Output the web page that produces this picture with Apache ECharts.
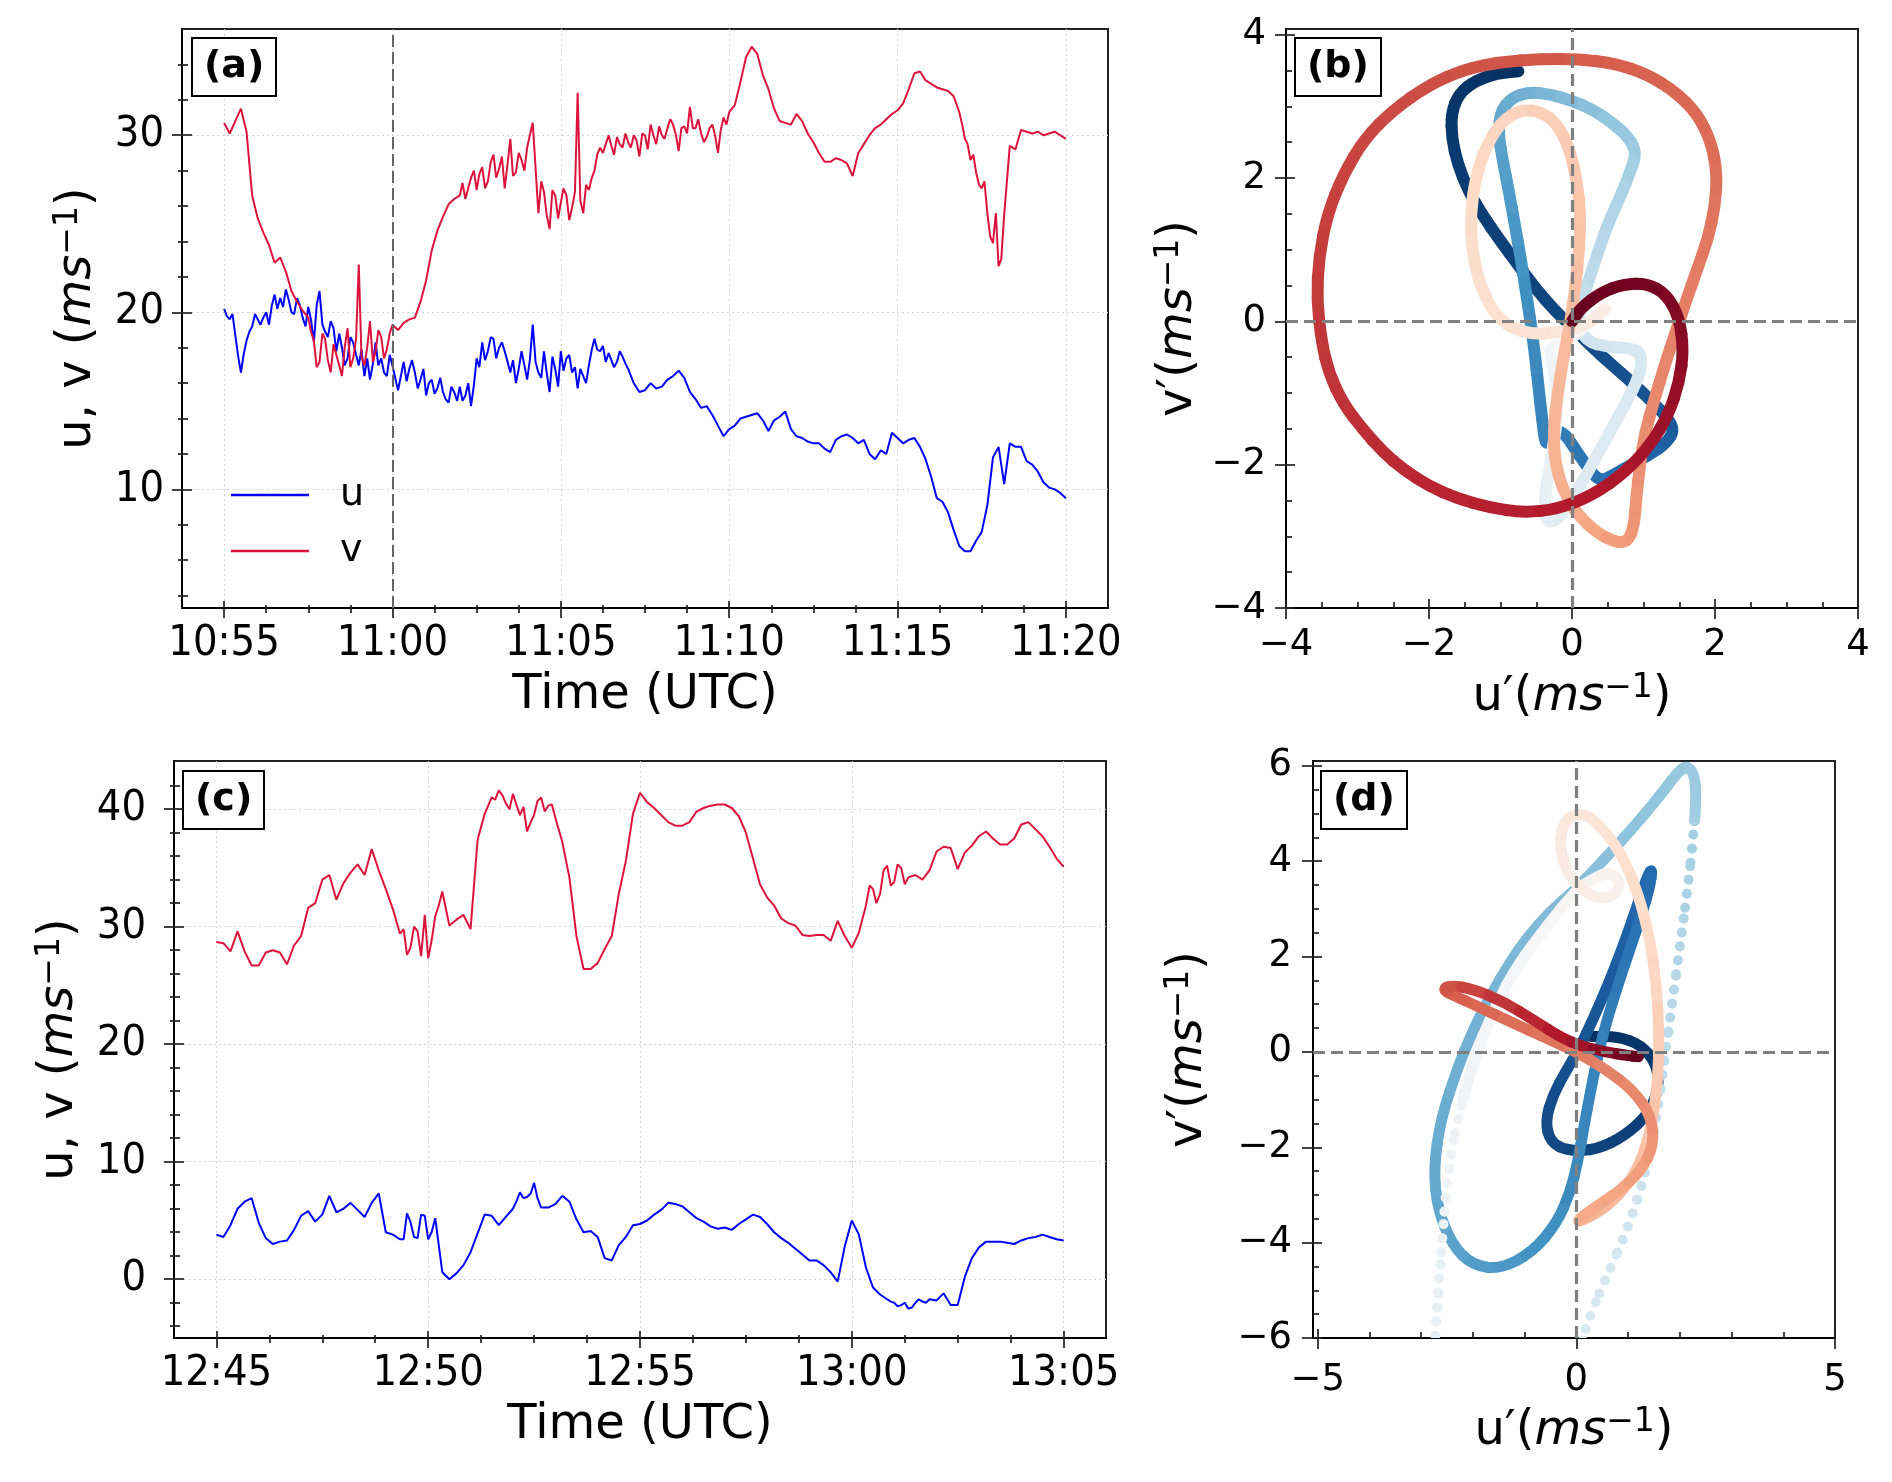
<!DOCTYPE html>
<html>
<head>
<meta charset="utf-8">
<script src="https://cdn.jsdelivr.net/npm/echarts@6.0.0/dist/echarts.min.js"></script>
<style>
  html, body { margin: 0; padding: 0; background: #fff; }
  #chart { width: 1892px; height: 1482px; }
</style>
</head>
<body>
<div id="chart"></div>
<script>
const FONT = 'DejaVu Sans';
const TICK_FONT = '"DejaVu Sans Condensed", "DejaVu Sans"';
const STEP = 1 / 6; // base samples every 10 s, x in minutes

// ---- (a) 10:55 - 11:20 UTC ----
const aTicks = [0, 5, 10, 15, 20, 25];
const aTickLabels = ['10:55', '11:00', '11:05', '11:10', '11:15', '11:20'];
const aU = [
  20.2, 19.6, 18.7, 16.6, 18.4, 19.2,  19.6, 19.7, 19.3, 21.0, 20.8, 21.3,
  20.0, 20.8, 19.7, 20.3, 18.3, 21.2,  18.9, 19.5, 17.8, 18.0, 17.4, 18.3,
  17.0, 16.4, 16.2, 18.3, 17.4, 16.4,  17.0, 15.6, 17.2, 16.8, 16.6, 16.2,
  15.3, 16.2, 15.7, 15.5, 14.9, 15.5,  15.8, 15.3, 14.7, 17.4, 18.3, 17.8,
  18.5, 18.0, 17.8, 16.6, 16.0, 17.8,  16.2, 19.3, 16.6, 17.8, 15.5, 16.8,
  17.8, 17.4, 16.6, 15.7, 16.4, 17.0,  18.5, 17.8, 17.2, 17.3, 17.2, 17.5,
  16.8, 16.0, 15.5, 15.6, 16.0, 15.7,  15.8, 16.2, 16.4, 16.7, 16.3, 15.5,
  15.1, 14.6, 14.7, 14.2, 13.6, 13.0,  13.4, 13.6, 14.0, 14.1, 14.2, 14.3,
  13.9, 13.3, 13.9, 14.1, 14.4, 13.4,  13.0, 12.9, 12.7, 12.6, 12.6, 12.3,
  12.1, 12.8, 13.0, 13.1, 12.9, 12.6,  12.8, 12.0, 11.7, 12.2, 12.0, 13.2,
  12.9, 12.6, 12.8, 12.9, 12.4, 11.7,  10.7, 9.5, 9.3, 8.7, 7.7, 6.8,
  6.5, 6.5, 7.1, 7.6, 9.1, 11.8,       12.4, 10.3, 12.6, 12.4, 12.4, 11.6,
  11.4, 11.0, 10.4, 10.1, 10.0, 9.8,   9.5
];
// extra 5-s samples in the noisy stretches: [minute, value]
const aUExtra = [
  [0.08,19.8],[0.25,19.9],[0.42,17.5],[0.58,17.6],[0.75,18.9],[0.92,19.9],
  [1.08,19.3],[1.25,20.0],[1.42,20.4],[1.58,20.2],[1.75,20.3],[1.92,20.7],
  [2.08,19.9],[2.25,20.4],[2.42,19.2],[2.58,19.6],[2.75,20.4],[2.92,19.3],
  [3.08,18.6],[3.25,19.1],[3.42,18.8],[3.58,17.0],[3.75,18.6],[3.92,17.6],
  [4.08,17.9],[4.25,17.4],[4.42,17.1],[4.58,17.0],[4.75,16.6],[4.92,17.6],
  [5.08,16.3],[5.25,16.4],[5.42,16.1],[5.58,17.3],[5.75,15.7],[5.92,16.8],
  [6.08,16.0],[6.25,15.4],[6.42,16.3],[6.58,15.1],[6.75,15.8],[6.92,15.0],
  [7.08,15.0],[7.25,16.0],[7.42,15.9],[7.58,16.9],[7.75,17.3],[7.92,18.6],
  [8.08,17.4],[8.25,18.3],[8.42,17.2],[8.58,17.3],[8.75,16.8],[8.92,17.0],
  [9.08,17.3],[9.25,17.2],[9.42,16.3],[9.58,16.6],[9.75,17.5],[9.92,15.8],
  [10.08,16.7],[10.25,17.6],[10.42,16.9],[10.58,16.8],[10.75,16.0],[10.92,17.9],
  [11.08,17.9],[11.25,18.1],[11.42,17.7],[11.58,16.9],[11.75,17.8],[11.92,17.1]
];
const aV = [
  30.7, 30.1, 30.8, 31.5, 30.2, 26.6,  25.3, 24.5, 23.8, 22.8, 23.1, 22.3,
  21.2, 20.6, 20.1, 19.7, 18.4, 17.2,  18.5, 16.6, 17.6, 16.4, 19.1, 17.4,
  22.7, 17.0, 19.5, 17.8, 18.6, 17.9,  19.3, 19.0, 19.4, 19.6, 19.7, 20.6,
  21.8, 23.5, 24.6, 25.4, 26.1, 26.4,  26.6, 26.4, 27.6, 26.9, 28.2, 27.4,
  28.9, 28.1, 27.0, 29.8, 27.9, 28.6,  29.3, 30.7, 25.6, 26.8, 24.7, 26.6,
  26.2, 26.6, 25.9, 32.4, 25.6, 26.9,  28.0, 29.3, 29.5, 29.4, 29.9, 29.3,
  29.6, 30.0, 28.8, 30.0, 30.6, 29.5,  30.0, 30.4, 30.6, 29.1, 30.5, 31.6,
  30.4, 30.1, 29.9, 30.6, 29.0, 31.0,  31.3, 31.7, 33.0, 34.4, 35.0, 34.6,
  33.4, 32.6, 31.5, 30.8, 30.7, 30.6,  31.2, 30.8, 30.1, 29.6, 29.0, 28.5,
  28.5, 28.7, 28.6, 28.4, 27.7, 29.0,  29.5, 30.0, 30.4, 30.6, 30.9, 31.2,
  31.4, 31.8, 32.6, 33.5, 33.6, 33.1,  32.9, 32.7, 32.6, 32.5, 32.2, 31.3,
  29.8, 28.6, 27.9, 27.0, 25.6, 23.9,  22.6, 25.5, 29.4, 29.2, 30.3, 30.2,
  30.1, 30.2, 30.0, 30.1, 30.2, 30.0,  29.8
];
const aVExtra = [
  [2.58,18.9],[2.75,16.9],[2.92,18.8],[3.08,17.3],[3.25,18.2],[3.42,17.0],[3.58,18.0],
  [3.75,16.9],[3.92,18.5],[4.08,17.5],[4.25,18.0],[4.42,17.2],[4.58,19.0],[4.75,17.4],[4.92,18.8],
  [7.08,27.3],[7.25,27.0],[7.42,28.0],[7.58,27.8],[7.75,27.0],[7.92,28.5],[8.08,27.6],
  [8.25,28.8],[8.42,28.4],[8.58,27.7],[8.75,29.0],[8.92,28.0],[9.08,30.0],[9.42,27.4],
  [9.58,25.5],[9.75,26.9],[9.92,25.3],[10.08,27.0],[10.25,25.2],[10.42,26.8],[10.58,26.3],
  [10.75,27.2],[10.92,27.6],
  [11.08,28.9],[11.25,29.0],[11.42,30.0],[11.58,28.9],[11.75,29.5],[11.92,30.1],[12.08,29.3],
  [12.25,29.7],[12.42,30.1],[12.58,29.2],[12.75,30.0],[12.92,30.5],[13.08,29.8],[13.25,30.9],
  [13.42,30.0],[13.58,30.4],[13.75,30.1],[13.92,30.4],[14.08,30.9],[14.25,29.6],[14.42,30.4],
  [14.58,30.0],[14.75,30.3],[14.92,30.6],
  [21.92,30.6],[22.08,29.5],[22.25,28.9],[22.42,27.2],[22.58,27.4],[22.75,24.3],[22.92,25.6],[23.08,23.0]
];
const aMarkTime = 5; // 11:00

// ---- (c) 12:45 - 13:05 UTC ----
const cTicks = [0, 5, 10, 15, 20];
const cTickLabels = ['12:45', '12:50', '12:55', '13:00', '13:05'];
const cU = [
  3.8, 3.6, 4.6, 6.0, 6.6, 6.9,   4.8, 3.5, 3.0, 3.2, 3.3, 4.2,
  5.4, 5.8, 4.9, 5.5, 7.1, 5.7,   6.0, 6.5, 5.9, 5.3, 6.5, 7.3,
  4.0, 3.8, 3.4, 5.6, 3.6, 5.5,   3.4, 5.2, 0.6, 0.0, 0.5, 1.2,
  2.3, 3.9, 5.5, 5.4, 4.6, 5.3,   6.0, 7.4, 7.0, 8.2, 6.1, 6.1,
  6.4, 7.1, 6.6, 5.1, 4.0, 4.1,   3.6, 1.8, 1.6, 2.9, 3.6, 4.6,
  4.7, 5.0, 5.5, 5.9, 6.5, 6.4,   6.2, 5.7, 5.2, 4.9, 4.5, 4.3,
  4.4, 4.2, 4.7, 5.1, 5.5, 5.3,   4.7, 4.0, 3.5, 3.1, 2.6, 2.1,
  1.6, 1.6, 1.2, 0.6, -0.2, 2.8,  5.0, 3.8, 1.0, -0.7, -1.3, -1.7,
  -2.0, -2.2, -2.5, -2.0, -1.9, -1.7,  -1.8, -1.2, -2.2, -2.2, 0.2, 1.8,
  2.7, 3.2, 3.2, 3.2, 3.1, 3.0,   3.3, 3.5, 3.6, 3.8, 3.6, 3.4,
  3.3
];
const cUExtra = [
  [4.42,3.4],[4.58,4.9],[4.75,3.5],[4.92,5.4],[5.08,4.0],
  [7.08,6.6],[7.25,6.9],[7.42,7.3],[7.58,6.9],
  [15.92,-1.9],[16.08,-2.3],[16.25,-2.0],[16.42,-2.4],[16.58,-1.7],[16.75,-2.0]
];
const cV = [
  28.7, 28.6, 27.9, 29.6, 27.9, 26.7,  26.7, 27.8, 28.0, 27.8, 26.8, 28.4,
  29.2, 31.6, 32.0, 34.0, 34.4, 32.3,  33.7, 34.6, 35.3, 34.4, 36.6, 34.8,
  33.2, 31.5, 29.4, 27.6, 30.0, 27.5,  27.3, 30.9, 33.0, 30.1, 30.6, 31.0,
  29.8, 37.4, 39.6, 41.0, 41.6, 40.5,  41.3, 39.5, 38.1, 39.5, 41.0, 40.3,
  39.3, 37.2, 34.2, 29.2, 26.4, 26.4,  26.9, 28.1, 29.2, 32.8, 35.6, 39.6,
  41.4, 40.6, 40.1, 39.5, 38.9, 38.6,  38.6, 38.9, 39.8, 40.1, 40.3, 40.4,
  40.4, 40.1, 39.4, 38.0, 35.8, 33.6,  32.5, 31.8, 30.7, 30.3, 30.1, 29.3,
  29.2, 29.3, 29.3, 28.8, 30.5, 29.2,  28.2, 29.5, 31.8, 33.2, 32.8, 35.2,
  33.8, 35.0, 34.2, 34.4, 34.0, 34.8,  36.4, 36.8, 36.7, 34.9, 36.3, 36.9,
  37.7, 38.1, 37.5, 37.0, 37.0, 37.5,  38.7, 38.9, 38.3, 37.7, 36.8, 35.8,
  35.1
];
const cVExtra = [
  [4.42,29.8],[4.58,28.2],[4.75,29.6],[4.92,31.0],[5.08,28.8],[5.25,31.8],
  [6.58,40.8],[6.75,41.2],[6.92,40.0],[7.08,40.4],[7.25,40.2],[7.42,38.9],[7.58,40.7],[7.75,39.8],[7.92,40.4],
  [15.42,33.5],[15.58,32.0],[15.75,34.8],[15.92,33.5],[16.08,35.3],[16.25,33.6]
];

// ---- (b) hodograph: [u', v', colour position 0..1] ----
const bPath = [
  [-0.75,3.49,0.0],[-1.05,3.46,0.003],[-1.35,3.36,0.006],[-1.58,3.18,0.009],[-1.69,2.9,0.012],
  [-1.68,2.55,0.015],[-1.6,2.2,0.018],[-1.45,1.82,0.021],[-1.25,1.48,0.025],[-1.0,1.12,0.029],
  [-0.75,0.78,0.033],[-0.5,0.45,0.037],[-0.25,0.16,0.041],[0.0,-0.08,0.045],
  [0.25,-0.33,0.05],[0.55,-0.6,0.055],[0.85,-0.86,0.06],[1.12,-1.12,0.065],[1.33,-1.34,0.07],[1.43,-1.52,0.075],
  [1.32,-1.7,0.085],[1.1,-1.85,0.095],[0.85,-1.99,0.105],[0.6,-2.13,0.115],[0.38,-2.25,0.125],
  [0.12,-1.9,0.135],[-0.14,-1.5,0.145],[-0.3,-1.62,0.15],[-0.37,-1.74,0.155],
  [-0.42,-1.35,0.165],[-0.47,-0.9,0.17],[-0.52,-0.45,0.178],[-0.58,0.0,0.185],[-0.65,0.45,0.192],
  [-0.72,0.9,0.2],[-0.8,1.35,0.208],[-0.88,1.8,0.216],[-0.97,2.25,0.224],[-1.03,2.62,0.232],
  [-1.0,2.92,0.24],[-0.85,3.12,0.25],[-0.6,3.2,0.26],[-0.3,3.17,0.27],[0.0,3.08,0.28],
  [0.3,2.95,0.29],[0.58,2.76,0.3],[0.8,2.56,0.31],[0.9,2.35,0.32],[0.82,2.1,0.33],
  [0.68,1.75,0.34],[0.52,1.4,0.35],[0.38,1.02,0.36],[0.25,0.62,0.37],[0.14,0.28,0.38],[0.07,0.0,0.39],
  [0.2,-0.28,0.4],[0.5,-0.36,0.405],[0.8,-0.37,0.41],[0.98,-0.45,0.415],[0.95,-0.75,0.42],
  [0.75,-1.15,0.425],[0.5,-1.6,0.43],[0.25,-2.05,0.435],[0.0,-2.5,0.44],[-0.22,-2.8,0.445],
  [-0.38,-2.78,0.45],[-0.38,-2.4,0.455],[-0.3,-1.95,0.46],[-0.22,-1.5,0.465],[-0.2,-1.0,0.47],
  [-0.28,-0.55,0.48],[-0.32,-0.38,0.49],[-0.1,-0.3,0.5],[0.15,-0.1,0.51],[0.35,0.1,0.52],[0.5,0.2,0.53],
  [0.35,0.05,0.54],[0.12,-0.08,0.55],[-0.2,-0.16,0.56],[-0.55,-0.18,0.57],[-0.88,-0.08,0.575],
  [-1.12,0.15,0.58],[-1.3,0.55,0.585],[-1.4,1.0,0.59],[-1.42,1.5,0.595],[-1.35,2.0,0.6],
  [-1.2,2.45,0.605],[-0.98,2.8,0.61],[-0.7,2.96,0.615],[-0.42,2.92,0.62],[-0.2,2.75,0.625],
  [-0.03,2.4,0.63],[0.07,1.95,0.635],[0.12,1.5,0.64],[0.1,1.0,0.645],[0.05,0.5,0.65],
  [-0.02,0.0,0.655],[-0.12,-0.5,0.66],[-0.2,-1.0,0.665],[-0.26,-1.5,0.67],[-0.24,-1.95,0.675],
  [-0.13,-2.35,0.68],[0.08,-2.7,0.69],[0.35,-2.95,0.7],[0.6,-3.08,0.71],[0.78,-3.08,0.715],
  [0.87,-2.85,0.72],[0.9,-2.45,0.725],[0.95,-2.0,0.73],[1.02,-1.55,0.735],[1.15,-1.1,0.74],
  [1.3,-0.6,0.745],[1.45,-0.15,0.75],[1.6,0.3,0.755],[1.75,0.72,0.76],[1.9,1.15,0.765],
  [2.0,1.6,0.77],[2.03,2.05,0.775],[1.95,2.5,0.78],[1.75,2.9,0.785],[1.45,3.2,0.79],
  [1.05,3.45,0.795],[0.6,3.6,0.8],[0.1,3.66,0.805],[-0.45,3.66,0.81],[-1.0,3.62,0.815],
  [-1.5,3.52,0.82],[-2.0,3.3,0.825],[-2.5,2.95,0.83],[-2.9,2.55,0.835],[-3.2,2.05,0.84],
  [-3.42,1.5,0.845],[-3.54,0.9,0.85],[-3.57,0.3,0.853],[-3.5,-0.3,0.856],[-3.4,-0.72,0.86],
  [-3.2,-1.15,0.864],[-2.93,-1.5,0.868],[-2.65,-1.82,0.872],[-2.34,-2.08,0.876],[-2.0,-2.3,0.88],
  [-1.61,-2.47,0.884],[-1.15,-2.6,0.888],[-0.68,-2.67,0.892],[-0.2,-2.62,0.896],[0.3,-2.42,0.9],
  [0.75,-2.1,0.91],[1.1,-1.72,0.92],[1.35,-1.3,0.93],[1.5,-0.85,0.94],[1.56,-0.4,0.95],
  [1.5,0.05,0.96],[1.32,0.38,0.97],[1.05,0.53,0.98],[0.72,0.52,0.985],[0.4,0.4,0.99],
  [0.12,0.18,0.995],[0.0,0.0,1.0]
];

// ---- (d) hodograph: [u', v', colour position, 1 = sparse dots] ----
const dPath = [
  [0.3,0.32,0.0],[0.8,0.32,0.005],[1.25,0.15,0.01],[1.55,-0.25,0.015],[1.6,-0.75,0.02],
  [1.4,-1.3,0.025],[0.95,-1.75,0.03],[0.4,-2.05,0.035],[-0.15,-2.08,0.04],[-0.5,-1.9,0.045],
  [-0.6,-1.45,0.05],[-0.45,-0.9,0.055],[-0.2,-0.4,0.06],[0.05,0.05,0.065],
  [0.35,0.75,0.07],[0.65,1.5,0.08],[0.95,2.35,0.09],[1.2,3.15,0.1],[1.38,3.7,0.105],[1.47,3.85,0.11],
  [1.42,3.45,0.115],[1.27,2.9,0.12],[1.05,2.2,0.13],[0.82,1.45,0.14],[0.6,0.7,0.15],
  [0.42,-0.05,0.16],[0.28,-0.8,0.165],[0.15,-1.55,0.17],[0.03,-2.3,0.175],[-0.12,-2.95,0.18],[-0.38,-3.6,0.19],
  [-0.85,-4.2,0.2],[-1.45,-4.55,0.21],[-2.0,-4.48,0.22],[-2.4,-4.05,0.23],[-2.68,-3.3,0.24],[-2.76,-2.45,0.245],
  [-2.62,-1.4,0.25],[-2.3,-0.35,0.255],[-2.0,0.45,0.26],[-1.65,1.2,0.265],[-1.3,1.85,0.27],
  [-0.95,2.4,0.275],[-0.5,2.95,0.28],[0.0,3.42,0.285],[0.55,4.05,0.29],[1.1,4.7,0.295],
  [1.6,5.35,0.3],[1.95,5.85,0.305],[2.12,6.0,0.31],[2.28,5.85,0.315],[2.32,5.3,0.32],
  [2.25,4.4,0.33,1],[2.15,3.4,0.34,1],[2.0,2.2,0.35,1],[1.85,1.0,0.36,1],[1.7,-0.2,0.37,1],
  [1.55,-1.4,0.38,1],[1.35,-2.5,0.39,1],[1.0,-3.7,0.4,1],[0.55,-4.8,0.41,1],[0.2,-5.7,0.42,1],
  [0.05,-6.4,0.43,1],[-1.4,-7.2,0.44,1],
  [-2.75,-6.4,0.45,1],[-2.7,-5.5,0.455,1],[-2.64,-4.6,0.46,1],[-2.58,-3.8,0.465,1],[-2.52,-2.9,0.47,1],
  [-2.4,-2.0,0.475,1],[-2.28,-1.4,0.48,1],[-2.1,-0.6,0.485],[-1.85,0.2,0.49],[-1.55,1.0,0.493],
  [-1.15,1.8,0.496],[-0.6,2.6,0.5],[0.0,3.4,0.505],
  [0.3,3.62,0.51],[0.62,3.78,0.515],[0.85,3.6,0.52],[0.78,3.3,0.525],[0.48,3.2,0.53],[0.15,3.35,0.535],
  [-0.15,3.7,0.54],[-0.32,4.25,0.545],[-0.28,4.75,0.55],[-0.05,5.0,0.555],[0.25,4.95,0.56],
  [0.58,4.6,0.57],[0.92,4.05,0.58],[1.2,3.3,0.59],[1.42,2.4,0.6],[1.55,1.4,0.61],
  [1.6,0.4,0.62],[1.58,-0.6,0.63],[1.45,-1.6,0.64],[1.2,-2.45,0.65],[0.8,-3.05,0.66],
  [0.35,-3.42,0.67],[-0.05,-3.6,0.68],
  [0.3,-3.3,0.69],[0.8,-2.95,0.7],[1.25,-2.5,0.71],[1.5,-1.95,0.72],[1.45,-1.35,0.73],
  [1.1,-0.8,0.74],[0.55,-0.35,0.75],[0.0,0.0,0.76],[-0.6,0.3,0.77],[-1.25,0.62,0.78],
  [-1.9,0.95,0.79],[-2.4,1.2,0.8],[-2.58,1.3,0.81],
  [-2.45,1.4,0.82],[-2.0,1.32,0.84],[-1.4,1.05,0.86],[-0.8,0.65,0.88],[-0.3,0.3,0.9],
  [0.1,0.12,0.92],[0.55,0.0,0.95],[1.0,-0.08,0.98],[1.2,-0.1,1.0]
];

// RdBu reversed
const RDBU_R = ['#053061', '#2166ac', '#4393c3', '#92c5de', '#d1e5f0', '#f7f7f7',
                '#fddbc7', '#f4a582', '#d6604d', '#b2182b', '#67001f'];

function hexRgb(h) {
  return [parseInt(h.slice(1, 3), 16), parseInt(h.slice(3, 5), 16), parseInt(h.slice(5, 7), 16)];
}
function cmap(t) {
  const x = Math.max(0, Math.min(1, t)) * 10;
  const i = Math.min(9, Math.floor(x));
  const f = x - i;
  const a = hexRgb(RDBU_R[i]), b = hexRgb(RDBU_R[i + 1]);
  const c = a.map((v, k) => Math.round(v + (b[k] - v) * f));
  return 'rgb(' + c.join(',') + ')';
}

function steps(from, to, step, skip) {
  const out = [];
  for (let v = from; v <= to + 1e-9; v += step) {
    const r = +v.toFixed(4);
    if (!skip.includes(r)) out.push(r);
  }
  return out;
}
function num(v) {
  return v < 0 ? '\u2212' + Math.abs(v) : String(v);
}
// base 10-s samples plus the extra 5-s ones, in time order
function timeline(values, extra) {
  return values.map((v, i) => [i * STEP, v]).concat(extra).sort((p, q) => p[0] - q[0]);
}

function nameStyle(fs) {
  return {
    fontFamily: FONT, fontSize: fs, color: '#000', lineHeight: fs + 4,
    rich: {
      it: { fontFamily: FONT, fontStyle: 'italic', fontSize: fs, lineHeight: fs + 4, color: '#000' },
      sup: { fontFamily: FONT, fontSize: Math.round(fs * 0.68), lineHeight: Math.round(fs * 0.6), verticalAlign: 'top', color: '#000' }
    }
  };
}

// main axis + two helper axes that only draw major / minor ticks (in-out style)
function axisGroup(dim, grid, o) {
  const common = { gridIndex: grid, type: 'value', min: o.lo, max: o.hi, position: dim === 'x' ? 'bottom' : 'left' };
  const main = Object.assign({}, common, {
    axisLine: { show: true, onZero: false, lineStyle: { color: '#000', width: 2 } },
    axisTick: { show: false, customValues: o.major },
    axisLabel: {
      show: true, customValues: o.major, formatter: o.fmt || num, margin: o.margin,
      fontFamily: o.font || FONT, fontSize: o.fs, color: '#000', showMinLabel: true, showMaxLabel: true
    },
    splitLine: { show: !!o.grid, lineStyle: { color: '#d4d4d4', width: 1, type: [2, 3] } },
    name: o.name, nameLocation: 'middle', nameGap: o.nameGap, nameTextStyle: nameStyle(o.nameFs)
  });
  const ticks = (vals, tin, tout) => Object.assign({}, common, {
    offset: -tin,
    axisLine: { show: false, onZero: false },
    axisLabel: { show: false },
    splitLine: { show: false },
    axisTick: { show: true, customValues: vals, length: tin + tout, lineStyle: { color: '#222', width: 1.7 } }
  });
  return [main, ticks(o.major, o.majIn, o.majOut), ticks(o.minor, o.minIn, o.minOut)];
}

const xAxes = [], yAxes = [];
function addAxes(grid, xo, yo) {
  const xi = xAxes.length, yi = yAxes.length;
  xAxes.push(...axisGroup('x', grid, xo));
  yAxes.push(...axisGroup('y', grid, yo));
  return { xi, yi };
}

const UV_NAME = 'u, v ({it|ms}{sup|\u22121})';
const timeFmt = (ticks, labels) => v => labels[ticks.indexOf(v)];

const axA = addAxes(0,
  { lo: -1.25, hi: 26.25, major: aTicks, minor: steps(1.25, 25, 1.25, aTicks), fmt: timeFmt(aTicks, aTickLabels),
    font: TICK_FONT, fs: 43, margin: 14, grid: true, majIn: 7, majOut: 10, minIn: 3, minOut: 5,
    name: 'Time (UTC)', nameGap: 62, nameFs: 48 },
  { lo: 3.3, hi: 36.0, major: [10, 20, 30], minor: steps(4, 34, 2, [10, 20, 30]),
    font: TICK_FONT, fs: 43, margin: 18, grid: true, majIn: 10, majOut: 10, minIn: 6, minOut: 4,
    name: UV_NAME, nameGap: 78, nameFs: 48 });

const axB = addAxes(1,
  { lo: -4, hi: 4, major: [-4, -2, 0, 2, 4], minor: steps(-3.5, 3.5, 0.5, [-4, -2, 0, 2, 4]),
    fs: 37, margin: 19, majIn: 9, majOut: 11, minIn: 6, minOut: 0,
    name: 'u\u2032({it|ms}{sup|\u22121})', nameGap: 64, nameFs: 48 },
  { lo: -4, hi: 4.08, major: [-4, -2, 0, 2, 4], minor: steps(-3.5, 3.5, 0.5, [-4, -2, 0, 2, 4]),
    fs: 37, margin: 20, majIn: 9, majOut: 11, minIn: 6, minOut: 0,
    name: 'v\u2032({it|ms}{sup|\u22121})', nameGap: 81, nameFs: 48 });

const axC = addAxes(2,
  { lo: -1, hi: 21, major: cTicks, minor: steps(1.25, 18.75, 1.25, cTicks), fmt: timeFmt(cTicks, cTickLabels),
    font: TICK_FONT, fs: 43, margin: 14, grid: true, majIn: 7, majOut: 10, minIn: 3, minOut: 5,
    name: 'Time (UTC)', nameGap: 62, nameFs: 48 },
  { lo: -5, hi: 44.1, major: [0, 10, 20, 30, 40], minor: steps(-4, 42, 2, [0, 10, 20, 30, 40]),
    font: TICK_FONT, fs: 43, margin: 28, grid: true, majIn: 10, majOut: 10, minIn: 6, minOut: 4,
    name: UV_NAME, nameGap: 88, nameFs: 48 });

const axD = addAxes(3,
  { lo: -5.09, hi: 5, major: [-5, 0, 5], minor: steps(-4, 4, 1, [0]),
    fs: 37, margin: 24, majIn: 9, majOut: 11, minIn: 6, minOut: 0,
    name: 'u\u2032({it|ms}{sup|\u22121})', nameGap: 68, nameFs: 48 },
  { lo: -6, hi: 6.1, major: [-6, -4, -2, 0, 2, 4, 6], minor: steps(-5.5, 5.5, 0.5, [-6, -4, -2, 0, 2, 4, 6]),
    fs: 37, margin: 21, majIn: 9, majOut: 11, minIn: 6, minOut: 0,
    name: 'v\u2032({it|ms}{sup|\u22121})', nameGap: 98, nameFs: 48 });

function lineSeries(name, points, color, ax, extra) {
  return Object.assign({
    type: 'line', name, xAxisIndex: ax.xi, yAxisIndex: ax.yi,
    data: points,
    showSymbol: false, symbol: 'none', animation: false, silent: true, z: 3,
    lineStyle: { color, width: 2 }, itemStyle: { color }
  }, extra || {});
}

function hodograph(path, ax, width, dotGap) {
  const data = path.map((p, i) => {
    const a = path[Math.max(0, i - 1)], c = path[Math.min(path.length - 1, i + 1)];
    return [a[0], a[1], p[0], p[1], c[0], c[1], p[2], p[3] || 0];
  });
  return {
    type: 'custom', xAxisIndex: ax.xi, yAxisIndex: ax.yi, clip: true, silent: true, animation: false, z: 2,
    encode: { x: 2, y: 3 },
    data,
    renderItem(params, api) {
      const p0 = api.coord([api.value(0), api.value(1)]);
      const p1 = api.coord([api.value(2), api.value(3)]);
      const p2 = api.coord([api.value(4), api.value(5)]);
      const m0 = [(p0[0] + p1[0]) / 2, (p0[1] + p1[1]) / 2];
      const m1 = [(p1[0] + p2[0]) / 2, (p1[1] + p2[1]) / 2];
      const dotted = api.value(7) > 0;
      return {
        type: 'bezierCurve',
        shape: { x1: m0[0], y1: m0[1], x2: m1[0], y2: m1[1], cpx1: p1[0], cpy1: p1[1] },
        style: {
          fill: 'none', stroke: cmap(api.value(6)), lineWidth: dotted ? width - 1 : width,
          lineCap: 'round', lineDash: dotted ? [0.1, dotGap] : null
        }
      };
    }
  };
}

function zeroLines(ax) {
  return {
    type: 'line', xAxisIndex: ax.xi, yAxisIndex: ax.yi, data: [], silent: true, z: 6, animation: false,
    markLine: {
      silent: true, symbol: ['none', 'none'], label: { show: false }, animation: false,
      lineStyle: { color: '#808080', width: 3.2, type: [12, 6] },
      data: [{ xAxis: 0 }, { yAxis: 0 }]
    }
  };
}

const boxTitle = (text, left, top) => ({
  text, left, top, padding: [10, 12], borderColor: '#000', borderWidth: 2, backgroundColor: '#fff',
  textStyle: { fontFamily: FONT, fontWeight: 'bold', fontSize: 38, lineHeight: 38, color: '#000' }
});

const option = {
  animation: false,
  backgroundColor: '#fff',
  textStyle: { fontFamily: FONT },
  title: [
    boxTitle('(a)', 192, 38),
    boxTitle('(b)', 1295, 38),
    boxTitle('(c)', 183, 771),
    boxTitle('(d)', 1321, 771)
  ],
  legend: {
    data: ['u', 'v'], orient: 'vertical', left: 226, top: 470, icon: 'rect',
    itemWidth: 78, itemHeight: 2.5, itemGap: 16, selectedMode: false,
    textStyle: { fontFamily: FONT, fontSize: 38, color: '#000', lineHeight: 40, padding: [0, 0, 0, 26] }
  },
  grid: [
    { left: 182, top: 29, width: 926, height: 579, show: true, borderColor: '#222', borderWidth: 2 },
    { left: 1286, top: 29, width: 572, height: 579, show: true, borderColor: '#222', borderWidth: 2 },
    { left: 174, top: 761, width: 932, height: 577, show: true, borderColor: '#222', borderWidth: 2 },
    { left: 1313, top: 761, width: 522, height: 577, show: true, borderColor: '#222', borderWidth: 2 }
  ],
  xAxis: xAxes,
  yAxis: yAxes,
  series: [
    lineSeries('u', timeline(aU, aUExtra), '#0000ff', axA),
    lineSeries('v', timeline(aV, aVExtra), '#dc143c', axA, {
      markLine: {
        silent: true, symbol: ['none', 'none'], label: { show: false }, animation: false,
        lineStyle: { color: '#666', width: 2, type: [12, 5] },
        data: [{ xAxis: aMarkTime }]
      }
    }),
    lineSeries('u', timeline(cU, cUExtra), '#0000ff', axC),
    lineSeries('v', timeline(cV, cVExtra), '#dc143c', axC),
    hodograph(bPath, axB, 12, 13),
    hodograph(dPath, axD, 11, 14),
    zeroLines(axB),
    zeroLines(axD)
  ]
};

const chart = echarts.init(document.getElementById('chart'), null, { renderer: 'canvas', width: 1892, height: 1482 });
chart.setOption(option);
</script>
</body>
</html>
